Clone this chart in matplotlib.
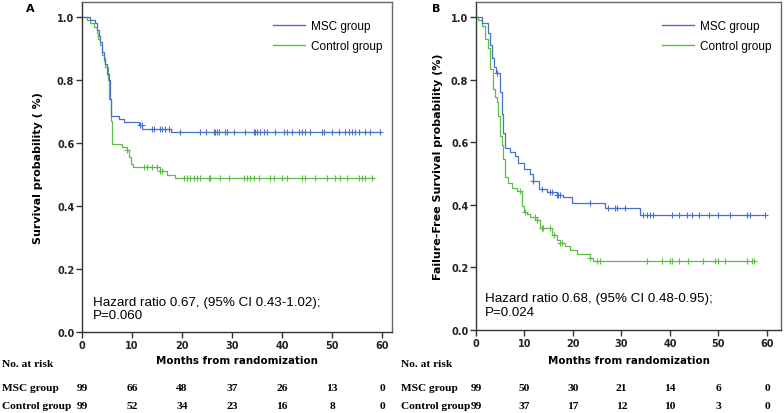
import numpy as np
import matplotlib
matplotlib.use("Agg")
import matplotlib.pyplot as plt
import matplotlib.transforms as mtrans
from matplotlib.lines import Line2D

# ---------------- data ----------------
# Panel A: overall survival
a_msc_t = [0, 1.6, 2.6, 3.0, 3.3, 3.6, 4.0, 4.3, 4.6, 5.0, 5.3, 5.6, 5.8, 7.3, 8.4, 11.3, 12.0, 17.8, 59.6]
a_msc_s = [1.0, 0.99, 0.98, 0.96, 0.94, 0.92, 0.89, 0.87, 0.85, 0.82, 0.80, 0.74, 0.687, 0.677, 0.667, 0.657, 0.646, 0.635, 0.635]
a_msc_cens = [11.6, 11.9, 13.9, 14.4, 15.5, 15.9, 16.6, 17.3, 19.6, 23.5, 24.8, 26.3, 26.6, 26.9, 27.3,
              28.6, 28.9, 30.3, 32.6, 34.3, 34.6, 34.9, 35.6, 36.3, 36.9, 38.6, 40.3, 40.9, 41.9, 43.3,
              43.9, 44.6, 45.6, 47.9, 48.3, 49.9, 51.3, 52.6, 53.3, 53.9, 54.6, 55.3, 56.6, 57.6, 59.6]
a_ctl_t = [0, 0.9, 1.6, 2.3, 2.9, 3.2, 3.5, 3.9, 4.3, 4.6, 5.1, 5.4, 5.8, 6.0, 7.9, 8.9, 9.3, 9.7, 10.2, 15.5, 16.9, 18.6, 58.3]
a_ctl_s = [1.0, 0.99, 0.98, 0.97, 0.95, 0.93, 0.91, 0.88, 0.86, 0.84, 0.80, 0.74, 0.67, 0.598, 0.587, 0.577, 0.557, 0.535, 0.523, 0.512, 0.50, 0.488, 0.488]
a_ctl_cens = [8.9, 12.3, 12.9, 13.9, 14.9, 15.6, 15.9, 20.3, 20.9, 21.6, 22.3, 22.9, 23.6, 25.3, 25.6,
              27.6, 29.3, 32.3, 32.9, 33.6, 34.3, 35.3, 37.6, 38.3, 39.9, 40.9, 43.9, 44.6, 46.6, 48.9,
              50.6, 51.6, 52.9, 55.3, 55.9, 56.6, 57.9]

# Panel B: failure-free survival
b_msc_t = [0, 1.2, 2.5, 2.9, 3.2, 3.7, 4.1, 5.0, 5.3, 5.6, 6.0, 7.0, 8.1, 8.7, 9.8, 11.1, 11.8, 12.9,
           14.6, 16.7, 18.0, 19.8, 26.6, 33.9, 59.7]
b_msc_s = [1.0, 0.98, 0.95, 0.91, 0.87, 0.84, 0.82, 0.76, 0.69, 0.63, 0.58, 0.57, 0.555, 0.535, 0.515,
           0.50, 0.477, 0.452, 0.441, 0.431, 0.424, 0.406, 0.389, 0.369, 0.369]
b_msc_cens = [4.4, 11.8, 13.6, 15.3, 15.6, 16.7, 17.0, 17.3, 23.5, 27.3, 28.7, 29.0, 30.8, 34.5, 35.2,
              35.9, 36.6, 40.4, 41.8, 43.5, 44.5, 45.9, 48.0, 50.0, 52.4, 55.9, 56.6, 59.7]
b_ctl_t = [0, 0.5, 1.2, 1.9, 2.5, 2.9, 3.6, 3.9, 4.3, 4.6, 5.0, 5.3, 5.6, 6.0, 6.7, 7.4, 8.4, 9.4, 9.8,
           10.5, 11.1, 12.5, 13.2, 15.6, 16.7, 17.3, 18.4, 19.4, 20.8, 23.5, 24.2, 57.3]
b_ctl_s = [1.0, 0.99, 0.97, 0.93, 0.90, 0.835, 0.77, 0.745, 0.73, 0.685, 0.62, 0.59, 0.545, 0.49, 0.47,
           0.455, 0.443, 0.397, 0.376, 0.37, 0.36, 0.35, 0.325, 0.304, 0.288, 0.277, 0.267, 0.256, 0.242,
           0.231, 0.221, 0.221]
b_ctl_cens = [9.1, 10.1, 12.2, 12.5, 13.6, 13.9, 15.3, 16.0, 17.3, 17.7, 23.5, 24.9, 25.6, 35.2, 38.3,
              40.1, 40.4, 41.8, 43.8, 46.9, 49.3, 50.0, 51.4, 55.9, 56.9, 57.3]

risk_times = [0, 10, 20, 30, 40, 50, 60]
a_risk_msc = [99, 66, 48, 37, 26, 13, 0]
a_risk_ctl = [99, 52, 34, 23, 16, 8, 0]
b_risk_msc = [99, 50, 30, 21, 14, 6, 0]
b_risk_ctl = [99, 37, 17, 12, 10, 3, 0]

xticks = [0, 10, 20, 30, 40, 50, 60]
yticks = [0.0, 0.2, 0.4, 0.6, 0.8, 1.0]

BLUE = "#4a6fcc"
GREEN = "#5bbf45"
FRAME = "#666666"

W, H = 784, 414
fig = plt.figure(figsize=(W / 100, H / 100), dpi=100)


def fx(px):
    return px / W


def fy(py):
    return 1 - py / H


def km_panel(ax, msc_t, msc_s, msc_c, ctl_t, ctl_s, ctl_c, xmax, ylabel, labelpad):
    for t, s, c, col in [(ctl_t, ctl_s, ctl_c, GREEN), (msc_t, msc_s, msc_c, BLUE)]:
        ax.step(t, s, where="post", color=col, lw=0.9)
        t_arr = np.array(t)
        s_arr = np.array(s)
        idx = np.searchsorted(t_arr, np.array(c), side="right") - 1
        ax.plot(c, s_arr[idx], linestyle="none", marker="+", color=col, ms=5, mew=0.8)
    ax.set_xlim(0, xmax)
    ax.set_ylim(0, 1.048)
    ax.set_xticks(xticks)
    ax.set_yticks(yticks)
    ax.set_yticklabels([f"{v:.1f}" for v in yticks])
    for sp in ax.spines.values():
        sp.set_color(FRAME)
        sp.set_linewidth(1.0)
    ax.spines["bottom"].set_color("#333333")
    ax.spines["left"].set_color("#333333")
    ax.tick_params(direction="out", length=4, width=1, color="#333333", pad=1.5,
                   labelsize=7)
    for lab in ax.get_xticklabels() + ax.get_yticklabels():
        lab.set_fontweight("bold")
        lab.set_color("#222222")
    ax.set_ylabel(ylabel, fontsize=8, fontweight="bold", labelpad=labelpad)


# Panel A
axA = fig.add_axes([fx(82), fy(333), fx(392) - fx(82), fy(3) - fy(333)])
km_panel(axA, a_msc_t, a_msc_s, a_msc_cens, a_ctl_t, a_ctl_s, a_ctl_cens, 62,
         "Survival probability ( %)", 10)
# Panel B
axB = fig.add_axes([fx(476), fy(331), fx(781) - fx(476), fy(3) - fy(331)])
km_panel(axB, b_msc_t, b_msc_s, b_msc_cens, b_ctl_t, b_ctl_s, b_ctl_cens, 62.9,
         "Failure-Free Survival probability (%)", 6)

for ax, hr, hx, hy in [(axA, "Hazard ratio 0.67, (95% CI 0.43-1.02);\nP=0.060", 0.035, 0.071),
                       (axB, "Hazard ratio 0.68, (95% CI 0.48-0.95);\nP=0.024", 0.03, 0.076)]:
    handles = [Line2D([], [], color=BLUE, lw=1.0), Line2D([], [], color=GREEN, lw=1.0)]
    ax.legend(handles, ["MSC group", "Control group"], loc="upper right",
              frameon=False, prop={"family": "Liberation Sans", "size": 8.5},
              handlelength=2.7, handletextpad=0.5, labelspacing=0.7,
              borderaxespad=0.0, bbox_to_anchor=(0.985, 0.96))
    ax.text(hx, hy, hr, transform=ax.transAxes, ha="left", va="center",
            family="Liberation Sans", fontsize=9.6, linespacing=1.2)

fig.text(fx(30), fy(9), "A", fontsize=8, fontweight="bold", ha="center", va="center")
fig.text(fx(436), fy(9), "B", fontsize=8, fontweight="bold", ha="center", va="center")

# risk tables
serif = dict(family="Liberation Serif", fontweight="bold", fontsize=8.2)
for ax, x0, rm, rc in [(axA, 2, a_risk_msc, a_risk_ctl), (axB, 401, b_risk_msc, b_risk_ctl)]:
    ax.text(0.5, fy(361), "Months from randomization",
            transform=mtrans.blended_transform_factory(ax.transAxes, fig.transFigure),
            ha="center", va="center", fontsize=7.4, fontweight="bold")
    fig.text(fx(x0), fy(365), "No. at risk", ha="left", va="center", **serif)
    fig.text(fx(x0), fy(389), "MSC group", ha="left", va="center", **serif)
    fig.text(fx(x0), fy(407), "Control group", ha="left", va="center", **serif)
    tr = mtrans.blended_transform_factory(ax.transData, fig.transFigure)
    for t, m, c in zip(risk_times, rm, rc):
        ax.text(t, fy(389), str(m), transform=tr, ha="center", va="center", **serif)
        ax.text(t, fy(407), str(c), transform=tr, ha="center", va="center", **serif)

fig.savefig("out.png", dpi=100)
